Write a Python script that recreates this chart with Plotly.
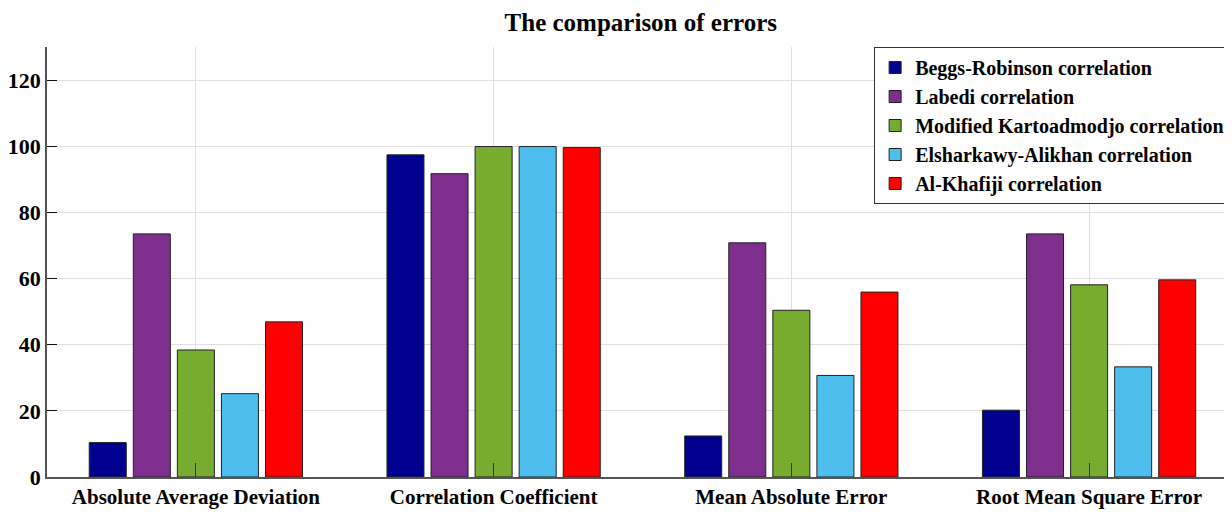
import plotly.graph_objects as go

categories = ["Absolute Average Deviation", "Correlation Coefficient",
              "Mean Absolute Error", "Root Mean Square Error"]
series_names = ["Beggs-Robinson correlation", "Labedi correlation",
                "Modified Kartoadmodjo correlation", "Elsharkawy-Alikhan correlation",
                "Al-Khafiji correlation"]
beggs = [10.4, 97.4, 12.4, 20.2]
labedi = [73.5, 91.7, 70.8, 73.5]
kartoadmodjo = [38.4, 99.9, 50.4, 58.1]
elsharkawy = [25.2, 99.9, 30.7, 33.3]
alkhafiji = [46.9, 99.6, 55.9, 59.6]
colors = ["#00008F", "#7E2F8E", "#77AC30", "#4DBEEE", "#FF0000"]
y_ticks = [0, 20, 40, 60, 80, 100, 120]

FONT = "Liberation Serif"
fig = go.Figure()
for name, vals, col in zip(series_names, [beggs, labedi, kartoadmodjo, elsharkawy, alkhafiji], colors):
    fig.add_trace(go.Bar(x=categories, y=vals, name=name, marker_color=col,
                         marker_line=dict(color="#222222", width=1)))

fig.update_layout(
    width=1224, height=509,
    margin=dict(l=39, r=0, t=39, b=40, autoexpand=False),
    paper_bgcolor="white", plot_bgcolor="white",
    barmode="group", bargap=0.26, bargroupgap=0.16,
    title=dict(text="The comparison of errors", x=0.517, xanchor="center",
               yref="container", y=0.9725, yanchor="middle",
               font=dict(family=FONT, size=25, color="black", weight="bold")),
    font=dict(family=FONT, color="black"),
    legend=dict(x=0.698, y=1.0, xanchor="left", yanchor="top",
                bordercolor="#333333", borderwidth=1, bgcolor="white",
                font=dict(family=FONT, size=20, color="black", weight="bold"),
                tracegroupgap=0, itemwidth=30),
    showlegend=True,
)
fig.update_xaxes(range=[-0.5, 3.48], showgrid=True, gridcolor="#E0E0E0",
                 showline=True, linecolor="#555555", linewidth=1.5,
                 ticks="inside", ticklen=14, tickcolor="#333333", automargin=False,
                 tickfont=dict(family=FONT, size=21, color="black", weight="bold"))
fig.update_yaxes(range=[0, 130], tickvals=y_ticks, showgrid=True, gridcolor="#E0E0E0",
                 showline=True, linecolor="#555555", linewidth=1.5,
                 ticks="inside", ticklen=10, tickcolor="#111111", automargin=False,
                 tickfont=dict(family=FONT, size=22, color="black", weight="bold"),
                 zeroline=False)
fig.write_html("out.html")
